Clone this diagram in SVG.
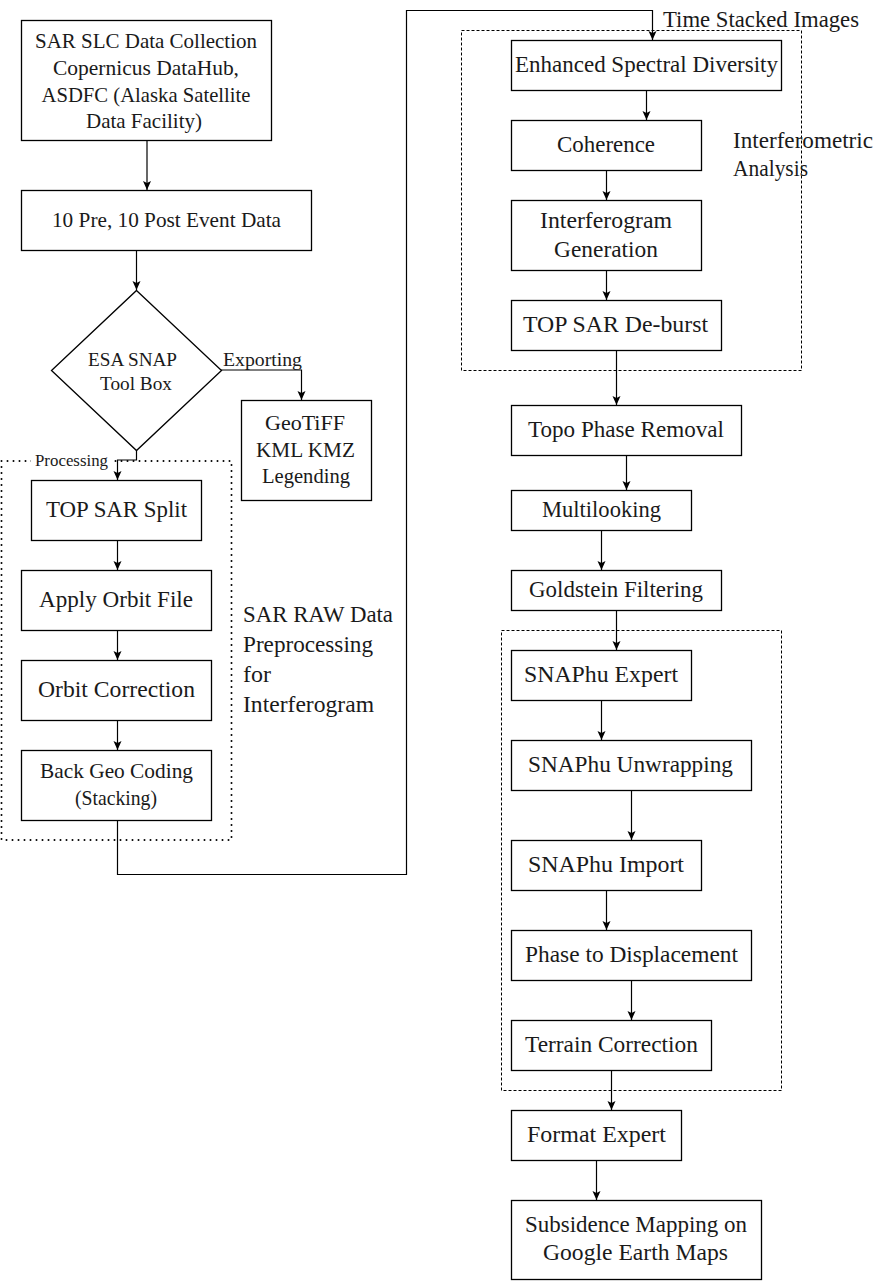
<svg xmlns="http://www.w3.org/2000/svg" width="891" height="1281" viewBox="0 0 891 1281">
<style>
.box{fill:#fff;stroke:#000;stroke-width:1.3}
.t{font-family:"Liberation Serif",serif;font-size:22.5px;fill:#1a1a1a;text-anchor:middle}
.tl{font-family:"Liberation Serif",serif;font-size:22.5px;fill:#1a1a1a}
.s{font-family:"Liberation Serif",serif;font-size:18px;fill:#1a1a1a}
.c{fill:none;stroke:#000;stroke-width:1.2}
.dash{fill:none;stroke:#000;stroke-width:1;stroke-dasharray:3 2}
.dot{fill:none;stroke:#000;stroke-width:2;stroke-dasharray:0 6;stroke-linecap:round}
</style>
<defs>
<marker id="ah" markerUnits="userSpaceOnUse" markerWidth="10" markerHeight="10" refX="9" refY="5" orient="auto">
<path d="M0,1 L9,5 L0,9 L2,5 Z" fill="#000"/>
</marker>
</defs>
<rect width="891" height="1281" fill="#fff"/>

<g id="groups">
<rect class="dot" x="1.5" y="461" width="230" height="379"/>
<rect class="dash" x="461.5" y="30.5" width="340" height="340"/>
<rect class="dash" x="501.5" y="630.5" width="280" height="460"/>
<text class="tl" x="243" y="622" textLength="150" lengthAdjust="spacingAndGlyphs">SAR RAW Data</text>
<text class="tl" x="243" y="652" textLength="130" lengthAdjust="spacingAndGlyphs">Preprocessing</text>
<text class="tl" x="243" y="682" textLength="28" lengthAdjust="spacingAndGlyphs">for</text>
<text class="tl" x="243" y="712" textLength="131" lengthAdjust="spacingAndGlyphs">Interferogram</text>
<text class="tl" x="733" y="148" textLength="140" lengthAdjust="spacingAndGlyphs">Interferometric</text>
<text class="tl" x="733" y="176" textLength="75" lengthAdjust="spacingAndGlyphs">Analysis</text>
</g>

<g id="connectors">
<line class="c" x1="147" y1="140" x2="147" y2="190" marker-end="url(#ah)"/>
<line class="c" x1="136.5" y1="250" x2="136.5" y2="290" marker-end="url(#ah)"/>
<polyline class="c" points="221,370 301.5,370 301.5,400" marker-end="url(#ah)"/>
<text class="s" x="223" y="366" textLength="79" lengthAdjust="spacingAndGlyphs">Exporting</text>
<polyline class="c" points="136.5,450 136.5,460 117.5,460 117.5,480" marker-end="url(#ah)"/>
<rect x="31" y="451" width="80" height="18" fill="#fff"/>
<text class="s" x="35" y="466" textLength="73" lengthAdjust="spacingAndGlyphs" style="font-size:16.5px">Processing</text>
<line class="c" x1="117.5" y1="540" x2="117.5" y2="570" marker-end="url(#ah)"/>
<line class="c" x1="117.5" y1="630" x2="117.5" y2="660" marker-end="url(#ah)"/>
<line class="c" x1="117.5" y1="720" x2="117.5" y2="750" marker-end="url(#ah)"/>
<polyline class="c" points="117.5,820 117.5,874.5 406.5,874.5 406.5,10.5 652.5,10.5 652.5,40" marker-end="url(#ah)"/>
<text class="tl" x="663" y="27" textLength="196" lengthAdjust="spacingAndGlyphs">Time Stacked Images</text>
<line class="c" x1="646.5" y1="90" x2="646.5" y2="120" marker-end="url(#ah)"/>
<line class="c" x1="606.5" y1="170" x2="606.5" y2="200" marker-end="url(#ah)"/>
<line class="c" x1="606.5" y1="270" x2="606.5" y2="300" marker-end="url(#ah)"/>
<line class="c" x1="616.5" y1="350" x2="616.5" y2="405" marker-end="url(#ah)"/>
<line class="c" x1="626.5" y1="455" x2="626.5" y2="490" marker-end="url(#ah)"/>
<line class="c" x1="601.5" y1="530" x2="601.5" y2="570" marker-end="url(#ah)"/>
<line class="c" x1="616.5" y1="610" x2="616.5" y2="650" marker-end="url(#ah)"/>
<line class="c" x1="601.5" y1="700" x2="601.5" y2="740" marker-end="url(#ah)"/>
<line class="c" x1="631.5" y1="790" x2="631.5" y2="840" marker-end="url(#ah)"/>
<line class="c" x1="606.5" y1="890" x2="606.5" y2="930" marker-end="url(#ah)"/>
<line class="c" x1="631.5" y1="980" x2="631.5" y2="1020" marker-end="url(#ah)"/>
<line class="c" x1="611.5" y1="1070" x2="611.5" y2="1110" marker-end="url(#ah)"/>
<line class="c" x1="596.5" y1="1160" x2="596.5" y2="1200" marker-end="url(#ah)"/>
</g>

<g id="n-slc">
<rect class="box" x="21.5" y="20.5" width="250" height="120"/>
<text class="t" x="146" y="48" textLength="222" lengthAdjust="spacingAndGlyphs" style="font-size:21px">SAR SLC Data Collection</text>
<text class="t" x="146" y="75" textLength="186" lengthAdjust="spacingAndGlyphs" style="font-size:21px">Copernicus DataHub,</text>
<text class="t" x="146" y="102" textLength="209" lengthAdjust="spacingAndGlyphs" style="font-size:21px">ASDFC (Alaska Satellite</text>
<text class="t" x="144" y="128" textLength="116" lengthAdjust="spacingAndGlyphs" style="font-size:21px">Data Facility)</text>
</g>
<g id="n-prepost">
<rect class="box" x="21.5" y="190.5" width="290" height="60"/>
<text class="t" x="166.5" y="227" textLength="229" lengthAdjust="spacingAndGlyphs" style="font-size:21.5px">10 Pre, 10 Post Event Data</text>
</g>
<g id="n-snap">
<polygon class="box" points="136.5,290.5 221.5,370.5 136.5,450.5 51.5,370.5"/>
<text class="t" x="132.5" y="366" textLength="89" lengthAdjust="spacingAndGlyphs" style="font-size:19px">ESA SNAP</text>
<text class="t" x="136" y="390" textLength="72" lengthAdjust="spacingAndGlyphs" style="font-size:19px">Tool Box</text>
</g>
<g id="n-geotiff">
<rect class="box" x="241.5" y="400.5" width="130" height="100"/>
<text class="t" x="305" y="430" textLength="80" lengthAdjust="spacingAndGlyphs" style="font-size:21.5px">GeoTiFF</text>
<text class="t" x="305.5" y="457" textLength="99" lengthAdjust="spacingAndGlyphs" style="font-size:21.5px">KML KMZ</text>
<text class="t" x="306" y="483" textLength="88" lengthAdjust="spacingAndGlyphs" style="font-size:21.5px">Legending</text>
</g>
<g id="n-split">
<rect class="box" x="31.5" y="480.5" width="170" height="60"/>
<text class="t" x="116.5" y="517" textLength="141" lengthAdjust="spacingAndGlyphs" style="font-size:23px">TOP SAR Split</text>
</g>
<g id="n-orbitfile">
<rect class="box" x="21.5" y="570.5" width="190" height="60"/>
<text class="t" x="116" y="607" textLength="154" lengthAdjust="spacingAndGlyphs">Apply Orbit File</text>
</g>
<g id="n-orbitcorr">
<rect class="box" x="21.5" y="660.5" width="190" height="60"/>
<text class="t" x="116.5" y="697" textLength="157" lengthAdjust="spacingAndGlyphs">Orbit Correction</text>
</g>
<g id="n-backgeo">
<rect class="box" x="21.5" y="750.5" width="190" height="70"/>
<text class="t" x="116.5" y="778" textLength="153" lengthAdjust="spacingAndGlyphs" style="font-size:21px">Back Geo Coding</text>
<text class="t" x="116" y="805" textLength="82" lengthAdjust="spacingAndGlyphs" style="font-size:21px">(Stacking)</text>
</g>

<g id="n-esd">
<rect class="box" x="511.5" y="40.5" width="270" height="50"/>
<text class="t" x="646.5" y="72" textLength="263" lengthAdjust="spacingAndGlyphs">Enhanced Spectral Diversity</text>
</g>
<g id="n-coh">
<rect class="box" x="511.5" y="120.5" width="190" height="50"/>
<text class="t" x="606" y="152" textLength="98" lengthAdjust="spacingAndGlyphs">Coherence</text>
</g>
<g id="n-ifg">
<rect class="box" x="511.5" y="200.5" width="190" height="70"/>
<text class="t" x="606" y="228" textLength="132" lengthAdjust="spacingAndGlyphs">Interferogram</text>
<text class="t" x="606" y="257" textLength="104" lengthAdjust="spacingAndGlyphs">Generation</text>
</g>
<g id="n-deburst">
<rect class="box" x="511.5" y="300.5" width="210" height="50"/>
<text class="t" x="615.5" y="332" textLength="185" lengthAdjust="spacingAndGlyphs">TOP SAR De-burst</text>
</g>
<g id="n-topo">
<rect class="box" x="511.5" y="405.5" width="230" height="50"/>
<text class="t" x="626" y="437" textLength="196" lengthAdjust="spacingAndGlyphs">Topo Phase Removal</text>
</g>
<g id="n-multi">
<rect class="box" x="511.5" y="490.5" width="180" height="40"/>
<text class="t" x="601.5" y="517" textLength="119" lengthAdjust="spacingAndGlyphs">Multilooking</text>
</g>
<g id="n-gold">
<rect class="box" x="511.5" y="570.5" width="210" height="40"/>
<text class="t" x="616" y="597" textLength="174" lengthAdjust="spacingAndGlyphs">Goldstein Filtering</text>
</g>
<g id="n-snaphuexp">
<rect class="box" x="511.5" y="650.5" width="180" height="50"/>
<text class="t" x="601" y="682" textLength="154" lengthAdjust="spacingAndGlyphs">SNAPhu Expert</text>
</g>
<g id="n-unwrap">
<rect class="box" x="511.5" y="740.5" width="240" height="50"/>
<text class="t" x="630.5" y="772" textLength="205" lengthAdjust="spacingAndGlyphs">SNAPhu Unwrapping</text>
</g>
<g id="n-import">
<rect class="box" x="511.5" y="840.5" width="190" height="50"/>
<text class="t" x="606" y="872" textLength="156" lengthAdjust="spacingAndGlyphs">SNAPhu Import</text>
</g>
<g id="n-p2d">
<rect class="box" x="511.5" y="930.5" width="240" height="50"/>
<text class="t" x="631.5" y="962" textLength="213" lengthAdjust="spacingAndGlyphs">Phase to Displacement</text>
</g>
<g id="n-terrain">
<rect class="box" x="511.5" y="1020.5" width="200" height="50"/>
<text class="t" x="611.5" y="1052" textLength="173" lengthAdjust="spacingAndGlyphs">Terrain Correction</text>
</g>
<g id="n-format">
<rect class="box" x="511.5" y="1110.5" width="170" height="50"/>
<text class="t" x="596.5" y="1142" textLength="139" lengthAdjust="spacingAndGlyphs">Format Expert</text>
</g>
<g id="n-subsidence">
<rect class="box" x="511.5" y="1200.5" width="250" height="79"/>
<text class="t" x="636" y="1232" textLength="222" lengthAdjust="spacingAndGlyphs">Subsidence Mapping on</text>
<text class="t" x="635.5" y="1260" textLength="185" lengthAdjust="spacingAndGlyphs">Google Earth Maps</text>
</g>
</svg>
